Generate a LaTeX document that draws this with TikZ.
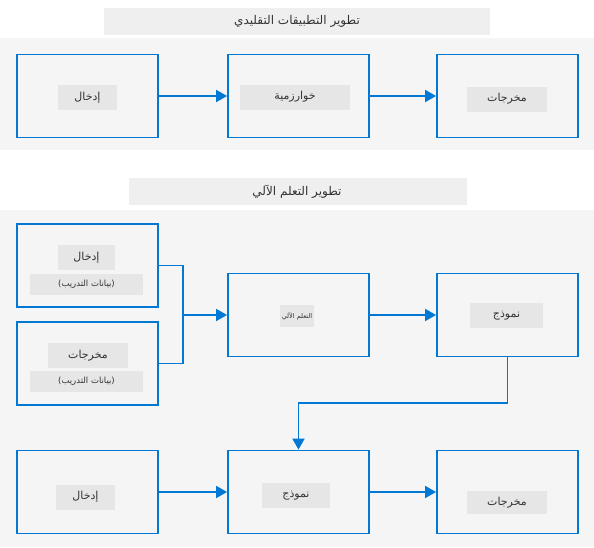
\documentclass[tikz,border=0pt]{standalone}
\usepackage{fontspec}
\newfontfamily\arabicfont[Script=Arabic]{DejaVu Sans}
\TeXXeTstate=1
\usetikzlibrary{arrows.meta}
\definecolor{msblue}{HTML}{0078D4}
\definecolor{panelgray}{HTML}{F5F5F5}
\definecolor{titlegray}{HTML}{EFEFEF}
\definecolor{labelgray}{HTML}{E6E6E6}
\definecolor{textgray}{HTML}{333333}
\tikzset{
         stagebox/.style={draw=msblue,line width=1.8pt,minimum width=141pt,minimum height=83pt,inner sep=0pt},
         tag/.style={fill=labelgray,text=textgray,inner sep=0pt,minimum height=25pt,
                     font=\arabicfont\fontsize{11}{13}\selectfont},
         subtag/.style={tag,minimum height=21pt,font=\arabicfont\fontsize{8.5}{10}\selectfont},
         heading/.style={text=textgray,font=\arabicfont\fontsize{12}{14}\selectfont},
         flow/.style={draw=msblue,line width=1.8pt},
         flowto/.style={flow,-{Triangle[length=11pt,width=12pt]}}
        }

\begin{document}
\begin{tikzpicture}[x=1pt,y=-1pt]
\useasboundingbox(0,0)rectangle(594,547);
%traditional development
\fill[titlegray](104,8)rectangle(490,35);
\node[heading](title1)at(297,21.5){\beginR تطوير التطبيقات التقليدي\endR};
\fill[panelgray](0,38)rectangle(594,150);
\node[stagebox](in1)at(87.5,96){};
\node[stagebox](algo)at(298.5,96){};
\node[stagebox](out1)at(507.5,96){};
\node[tag,minimum width=59pt](in1t)at(87.5,97.5){\beginR إدخال\endR};
\node[tag,minimum width=110pt](algot)at(295,97){\beginR خوارزمية\endR};
\node[tag,minimum width=80pt](out1t)at(507,99){\beginR مخرجات\endR};
\draw[flowto](in1)--(algo);
\draw[flowto](algo)--(out1);
%machine learning
\fill[titlegray](129,178)rectangle(467,205);
\node[heading](title2)at(297,191.5){\beginR تطوير التعلم الآلي\endR};
\fill[panelgray](0,210)rectangle(594,547);
%training data
\node[stagebox](trainin)at(87.5,265.5){};
\node[stagebox](trainout)at(87.5,363.5){};
\node[tag,minimum width=57pt](traininA)at(86.5,257.5){\beginR إدخال\endR};
\node[subtag,minimum width=113pt](traininB)at(86.5,284.5){\beginR(بيانات التدريب)\endR};
\node[tag,minimum width=80pt](trainoutA)at(88,355.5){\beginR مخرجات\endR};
\node[subtag,minimum width=113pt](trainoutB)at(86.5,381.5){\beginR(بيانات التدريب)\endR};
%learning and model
\node[stagebox](learn)at(298.5,315){};
\node[stagebox](model)at(507.5,315){};
\node[tag,minimum width=34pt,minimum height=22pt,font=\arabicfont\fontsize{6.5}{8}\selectfont](learnt)at(297,316){\beginR التعلم الآلي\endR};
\node[tag,minimum width=73pt](modelt)at(506.5,315.5){\beginR نموذج\endR};
\coordinate(merge)at(183,315);
\draw[flow](trainin.east)-|(merge);
\draw[flow](trainout.east)-|(merge);
\draw[flowto](merge)--(learn);
\draw[flowto](learn)--(model);
%inference
\node[stagebox](in2)at(87.5,492){};
\node[stagebox](use)at(298.5,492){};
\node[stagebox](out2)at(507.5,492){};
\node[tag,minimum width=59pt](in2t)at(85.5,497){\beginR إدخال\endR};
\node[tag,minimum width=68pt](uset)at(296,495.5){\beginR نموذج\endR};
\node[tag,minimum width=80pt,minimum height=23pt](out2t)at(507,502.5){\beginR مخرجات\endR};
\coordinate(turn)at(507.5,403);
\draw[flowto](model.south)--(turn)-|(use.north);
\draw[flowto](in2)--(use);
\draw[flowto](use)--(out2);
\end{tikzpicture}
\end{document}
